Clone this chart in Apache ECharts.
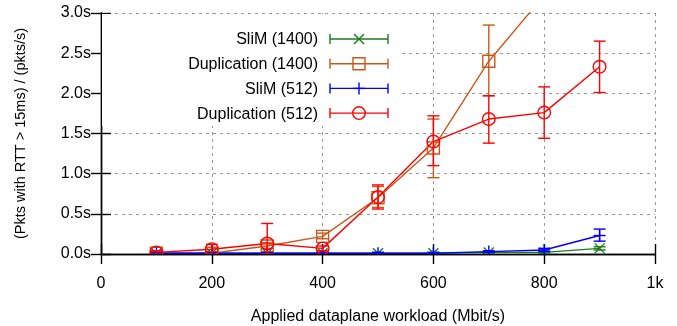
<!DOCTYPE html>
<html>
<head>
<meta charset="utf-8">
<script src="https://cdn.jsdelivr.net/npm/echarts@6/dist/echarts.min.js"></script>
<style>
  html, body { margin: 0; padding: 0; background: #fff; }
  #chart { width: 677px; height: 326px; }
</style>
</head>
<body>
<div id="chart"></div>
<script>
// workload (Mbit/s)
const workload = [100, 200, 300, 400, 500, 600, 700, 800, 900];

// seconds; lo/hi are the error bar ends
const slim1400 = [0.01, 0.01, 0.01, 0.01, 0.01, 0.01, 0.02, 0.02, 0.07];
const slim1400Lo = [0.0, 0.0, 0.0, 0.0, 0.0, 0.0, 0.01, 0.01, 0.05];
const slim1400Hi = [0.02, 0.02, 0.02, 0.02, 0.02, 0.02, 0.03, 0.03, 0.09];

const dup1400 = [0.01, 0.01, 0.10, 0.22, 0.70, 1.32, 2.40, 3.22, 3.60];
const dup1400Lo = [0.0, 0.0, 0.07, 0.19, 0.58, 0.95, 1.97, 3.05, 3.30];
const dup1400Hi = [0.03, 0.03, 0.14, 0.26, 0.84, 1.68, 2.85, 3.40, 3.90];

const slim512 = [0.01, 0.01, 0.01, 0.01, 0.01, 0.01, 0.03, 0.05, 0.23];
const slim512Lo = [0.0, 0.0, 0.0, 0.0, 0.0, 0.0, 0.02, 0.03, 0.16];
const slim512Hi = [0.02, 0.02, 0.02, 0.02, 0.02, 0.02, 0.04, 0.07, 0.31];

const dup512 = [0.02, 0.06, 0.13, 0.07, 0.71, 1.40, 1.68, 1.76, 2.33];
const dup512Lo = [0.0, 0.0, 0.0, 0.04, 0.56, 1.10, 1.38, 1.44, 2.01];
const dup512Hi = [0.04, 0.12, 0.38, 0.10, 0.86, 1.72, 1.97, 2.08, 2.65];

const legendNames = ['SliM (1400)', 'Duplication (1400)', 'SliM (512)', 'Duplication (512)'];

const GREEN = '#1b7d1b';
const ORANGE = '#c9581c';
const BLUE = '#0000ff';
const RED = '#ff0000';
const FONT = '"Liberation Sans", Arial, sans-serif';

// marker shapes drawn around (cx, cy)
function marker(kind, cx, cy, color) {
  const st = { stroke: color, lineWidth: 1.4, fill: null };
  if (kind === 'x') {
    return [
      { type: 'line', shape: { x1: cx - 5, y1: cy - 5, x2: cx + 5, y2: cy + 5 }, style: st },
      { type: 'line', shape: { x1: cx - 5, y1: cy + 5, x2: cx + 5, y2: cy - 5 }, style: st }
    ];
  }
  if (kind === 'square') {
    return [{ type: 'rect', shape: { x: cx - 6, y: cy - 6, width: 12, height: 12 }, style: st }];
  }
  if (kind === 'plus') {
    return [
      { type: 'line', shape: { x1: cx - 6, y1: cy, x2: cx + 6, y2: cy }, style: st },
      { type: 'line', shape: { x1: cx, y1: cy - 6, x2: cx, y2: cy + 6 }, style: st }
    ];
  }
  return [{ type: 'circle', shape: { cx: cx, cy: cy, r: 6.3 }, style: st }];
}

function errSeries(name, vals, lo, hi, color, kind) {
  const data = workload.map((x, i) => [x, vals[i], lo[i], hi[i]]);
  return {
    name: name,
    type: 'custom',
    clip: true,
    data: data,
    renderItem: function (params, api) {
      const x = api.value(0);
      const p = api.coord([x, api.value(1)]);
      const pl = api.coord([x, api.value(2)]);
      const ph = api.coord([x, api.value(3)]);
      const st = { stroke: color, lineWidth: 1.4 };
      const children = [
        { type: 'line', shape: { x1: p[0], y1: pl[1], x2: p[0], y2: ph[1] }, style: st },
        { type: 'line', shape: { x1: p[0] - 6, y1: pl[1], x2: p[0] + 6, y2: pl[1] }, style: st },
        { type: 'line', shape: { x1: p[0] - 6, y1: ph[1], x2: p[0] + 6, y2: ph[1] }, style: st }
      ].concat(marker(kind, p[0], p[1], color));
      return { type: 'group', children: children };
    },
    z: 3
  };
}

function lineSeries(vals, color) {
  return {
    type: 'line',
    data: workload.map((x, i) => [x, vals[i]]),
    symbol: 'none',
    clip: true,
    lineStyle: { color: color, width: 1.4 },
    z: 2
  };
}

// legend samples (gnuplot style: text on the left, sample with caps on the right)
const legendRows = [
  { color: GREEN, kind: 'x' },
  { color: ORANGE, kind: 'square' },
  { color: BLUE, kind: 'plus' },
  { color: RED, kind: 'circle' }
];
const legendGraphics = [
  { type: 'rect', shape: { x: 102, y: 14, width: 298, height: 112 }, style: { fill: '#fff' }, z: 10 }
];
legendRows.forEach((r, i) => {
  const y = 39 + i * 24.7;
  const st = { stroke: r.color, lineWidth: 1.4 };
  legendGraphics.push({
    type: 'text', z: 11,
    style: { text: legendNames[i], x: 318, y: y + 1, align: 'right', verticalAlign: 'middle',
      fill: '#000', font: '16px ' + FONT }
  });
  const parts = [
    { type: 'line', shape: { x1: 330, y1: y, x2: 388, y2: y }, style: st },
    { type: 'line', shape: { x1: 330, y1: y - 5, x2: 330, y2: y + 5 }, style: st },
    { type: 'line', shape: { x1: 388, y1: y - 5, x2: 388, y2: y + 5 }, style: st }
  ].concat(marker(r.kind, 359, y, r.color));
  parts.forEach(p => { p.z = 11; legendGraphics.push(p); });
});

const chart = echarts.init(document.getElementById('chart'));

chart.setOption({
  animation: false,
  textStyle: { fontFamily: FONT },
  grid: { left: 101, right: 22, top: 13, bottom: 72, outerBoundsMode: 'none', containLabel: false },
  xAxis: [
    {
      type: 'value', min: 0, max: 1000, interval: 200,
      axisLine: { lineStyle: { color: '#000', width: 1.4 } },
      axisTick: { inside: true, length: 10, lineStyle: { color: '#000', width: 1.4 } },
      axisLabel: { color: '#000', fontSize: 16, margin: 22,
        formatter: v => (v === 1000 ? '1k' : String(v)) },
      splitLine: { show: true, lineStyle: { color: '#999', type: [3, 4], width: 1 } },
      name: 'Applied dataplane workload (Mbit/s)',
      nameLocation: 'middle', nameGap: 55,
      nameTextStyle: { color: '#000', fontSize: 16 }
    },
    {
      type: 'value', min: 0, max: 1000, interval: 200, position: 'top',
      axisLine: { show: true, lineStyle: { color: '#000', width: 1.4 } },
      axisTick: { inside: true, length: 10, lineStyle: { color: '#000', width: 1.4 } },
      axisLabel: { show: false }, splitLine: { show: false }
    }
  ],
  yAxis: [
    {
      type: 'value', min: 0, max: 3, interval: 0.5,
      axisLine: { show: true, lineStyle: { color: '#000', width: 1.4 } },
      axisTick: { show: true, inside: true, length: 10, lineStyle: { color: '#000', width: 1.4 } },
      axisLabel: { color: '#000', fontSize: 16, margin: 10, formatter: v => v.toFixed(1) + 's' },
      splitLine: { show: true, lineStyle: { color: '#999', type: [3, 4], width: 1 } },
      name: '(Pkts with RTT > 15ms) / (pkts/s)',
      nameLocation: 'middle', nameGap: 73, nameRotate: 90,
      nameTextStyle: { color: '#000', fontSize: 14.5 }
    },
    {
      type: 'value', min: 0, max: 3, interval: 0.5, position: 'right',
      axisLine: { show: true, lineStyle: { color: '#000', width: 1.4 } },
      axisTick: { show: true, inside: true, length: 10, lineStyle: { color: '#000', width: 1.4 } },
      axisLabel: { show: false }, splitLine: { show: false }
    }
  ],
  graphic: legendGraphics,
  series: [
    lineSeries(slim1400, GREEN),
    errSeries('SliM (1400)', slim1400, slim1400Lo, slim1400Hi, GREEN, 'x'),
    lineSeries(dup1400, ORANGE),
    errSeries('Duplication (1400)', dup1400, dup1400Lo, dup1400Hi, ORANGE, 'square'),
    lineSeries(slim512, BLUE),
    errSeries('SliM (512)', slim512, slim512Lo, slim512Hi, BLUE, 'plus'),
    lineSeries(dup512, RED),
    errSeries('Duplication (512)', dup512, dup512Lo, dup512Hi, RED, 'circle')
  ]
});
</script>
</body>
</html>
